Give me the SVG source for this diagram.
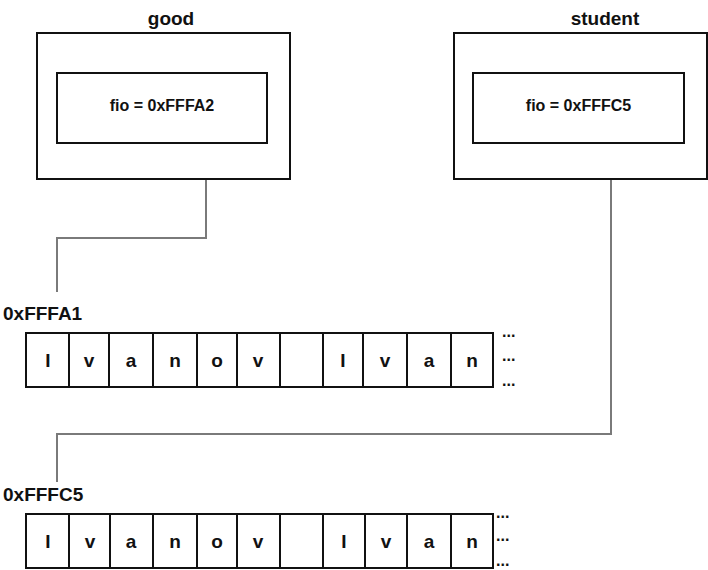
<svg xmlns="http://www.w3.org/2000/svg" width="708" height="570" viewBox="0 0 708 570">
<style>
.box{fill:#fff;stroke:#111;stroke-width:2}
.cell{fill:#fff;stroke:#111;stroke-width:2}
.t{font-family:"Liberation Sans",Arial,sans-serif;font-weight:bold;fill:#111}
.title{font-size:19px;text-anchor:middle}
.fio{font-size:16px;text-anchor:middle}
.lbl{font-size:19px}
.ch{font-size:19px;text-anchor:middle}
.dots{font-size:16px}
.conn{fill:none;stroke:#7a7a7a;stroke-width:2}
</style>
<rect width="708" height="570" fill="#fff"/>
<g id="connectors">
<path class="conn" d="M206,179 V238 H57 V292"/>
<path class="conn" d="M611,179 V434 H57 V482"/>
</g>
<g id="good">
<text class="t title" x="171" y="25">good</text>
<rect class="box" x="37" y="33" width="253" height="146"/>
<rect class="box" x="57" y="73" width="210" height="70"/>
<text class="t fio" x="162" y="111">fio = 0xFFFA2</text>
</g>
<g id="student">
<text class="t title" x="605" y="25">student</text>
<rect class="box" x="454" y="33" width="253" height="146"/>
<rect class="box" x="473" y="73" width="211" height="70"/>
<text class="t fio" x="578.5" y="111">fio = 0xFFFC5</text>
</g>
<g id="array1">
<text class="t lbl" x="3" y="320">0xFFFA1</text>
<rect class="cell" x="26" y="333" width="43" height="54"/>
<rect class="cell" x="69" y="333" width="40" height="54"/>
<rect class="cell" x="109" y="333" width="44" height="54"/>
<rect class="cell" x="153" y="333" width="44" height="54"/>
<rect class="cell" x="197" y="333" width="40" height="54"/>
<rect class="cell" x="237" y="333" width="43" height="54"/>
<rect class="cell" x="280" y="333" width="43" height="54"/>
<rect class="cell" x="323" y="333" width="40" height="54"/>
<rect class="cell" x="363" y="333" width="44" height="54"/>
<rect class="cell" x="407" y="333" width="44" height="54"/>
<rect class="cell" x="451" y="333" width="42" height="54"/>
<text class="t ch" x="48" y="367">I</text>
<text class="t ch" x="89" y="367">v</text>
<text class="t ch" x="131" y="367">a</text>
<text class="t ch" x="175" y="367">n</text>
<text class="t ch" x="217" y="367">o</text>
<text class="t ch" x="258" y="367">v</text>
<text class="t ch" x="343" y="367">I</text>
<text class="t ch" x="385" y="367">v</text>
<text class="t ch" x="429" y="367">a</text>
<text class="t ch" x="472" y="367">n</text>
<text class="t dots" x="502" y="337">...</text>
<text class="t dots" x="502" y="361">...</text>
<text class="t dots" x="502" y="386">...</text>
</g>
<g id="array2">
<text class="t lbl" x="3" y="501">0xFFFC5</text>
<rect class="cell" x="26" y="514" width="43" height="54"/>
<rect class="cell" x="69" y="514" width="41" height="54"/>
<rect class="cell" x="110" y="514" width="43" height="54"/>
<rect class="cell" x="153" y="514" width="44" height="54"/>
<rect class="cell" x="197" y="514" width="40" height="54"/>
<rect class="cell" x="237" y="514" width="43" height="54"/>
<rect class="cell" x="280" y="514" width="43" height="54"/>
<rect class="cell" x="323" y="514" width="42" height="54"/>
<rect class="cell" x="365" y="514" width="42" height="54"/>
<rect class="cell" x="407" y="514" width="44" height="54"/>
<rect class="cell" x="451" y="514" width="42" height="54"/>
<text class="t ch" x="48" y="548">I</text>
<text class="t ch" x="90" y="548">v</text>
<text class="t ch" x="131" y="548">a</text>
<text class="t ch" x="175" y="548">n</text>
<text class="t ch" x="217" y="548">o</text>
<text class="t ch" x="258" y="548">v</text>
<text class="t ch" x="344" y="548">I</text>
<text class="t ch" x="386" y="548">v</text>
<text class="t ch" x="429" y="548">a</text>
<text class="t ch" x="472" y="548">n</text>
<text class="t dots" x="496" y="518">...</text>
<text class="t dots" x="496" y="541">...</text>
<text class="t dots" x="496" y="566">...</text>
</g>
</svg>
